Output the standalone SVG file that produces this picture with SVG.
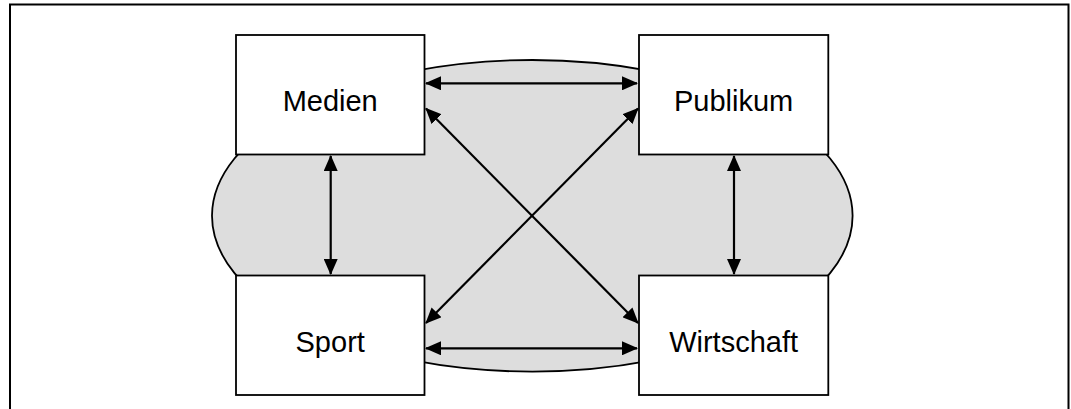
<svg xmlns="http://www.w3.org/2000/svg" width="1071" height="409" viewBox="0 0 1071 409">
  <style>
    .frame { fill: none; stroke: #000; stroke-width: 2; }
    .band { fill: #dddddd; stroke: #000; stroke-width: 1.8; }
    .box { fill: #fff; stroke: #000; stroke-width: 1.8; }
    .label { font-family: "Liberation Sans", Arial, sans-serif; font-size: 29px; fill: #000; text-anchor: middle; }
    .conn { stroke: #000; stroke-width: 2.2; fill: none; marker-start: url(#head); marker-end: url(#head); }
  </style>
  <defs>
    <marker id="head" viewBox="0 0 16 14" refX="15" refY="7" markerWidth="16" markerHeight="14" markerUnits="userSpaceOnUse" orient="auto-start-reverse">
      <path d="M0,0 L16,7 L0,14 Z" fill="#000"/>
    </marker>
  </defs>

  <!-- outer frame, open at the bottom -->
  <path class="frame" d="M10,409 V4.5 H1068.5 V409"/>

  <!-- shaded background ellipse -->
  <ellipse class="band" cx="532.3" cy="215.8" rx="320.3" ry="155.8"/>

  <!-- connectors -->
  <g id="connectors">
    <line class="conn" x1="426" y1="83.3" x2="637" y2="83.3"/>
    <line class="conn" x1="426" y1="348.3" x2="637" y2="348.3"/>
    <line class="conn" x1="330.7" y1="156" x2="330.7" y2="274"/>
    <line class="conn" x1="734" y1="156" x2="734" y2="274"/>
    <line class="conn" x1="426" y1="108.5" x2="638" y2="323"/>
    <line class="conn" x1="638" y1="108.5" x2="426" y2="323"/>
  </g>

  <g id="node-medien">
    <rect class="box" x="236" y="35" width="188.5" height="119.5"/>
    <text class="label" x="330.2" y="111">Medien</text>
  </g>
  <g id="node-publikum">
    <rect class="box" x="639" y="35" width="189.3" height="119.5"/>
    <text class="label" x="733.6" y="111">Publikum</text>
  </g>
  <g id="node-sport">
    <rect class="box" x="236" y="275.5" width="188.5" height="119.5"/>
    <text class="label" x="330.2" y="351.5">Sport</text>
  </g>
  <g id="node-wirtschaft">
    <rect class="box" x="639" y="275.5" width="189.3" height="119.5"/>
    <text class="label" x="733.6" y="351.5">Wirtschaft</text>
  </g>
</svg>
